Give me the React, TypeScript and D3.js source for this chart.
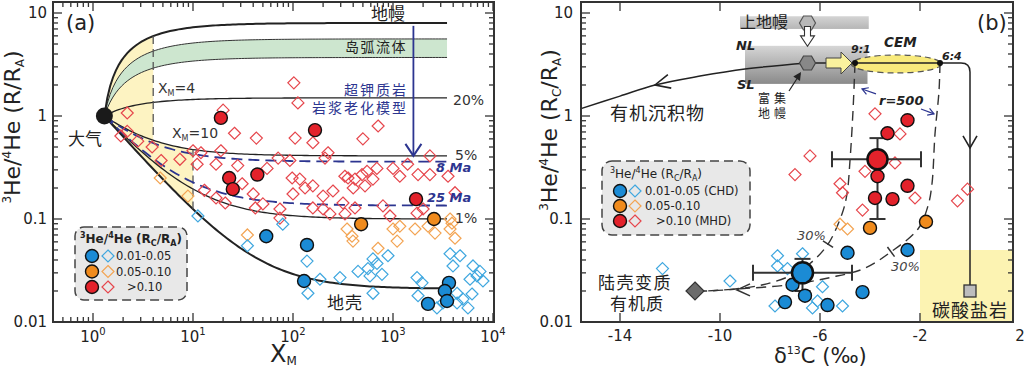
import * as d3 from 'd3';

const SANS = '"DejaVu Sans", "Liberation Sans", Arial, sans-serif';
const CJK = '"Noto Sans CJK SC", "DejaVu Sans", sans-serif';

const COL = {
  blue: '#1b8bd5', orange: '#f08b1d', red: '#e3222b',
  blueD: '#3fa7df', orangeD: '#f3a453', redD: '#e6464c',
  navy: '#2c3590', ink: '#262626',
};

// ---------- panel (a): X_M vs 3He/4He (R/RA)
const airXM = 1.3;
const xmEnd = 3470;
const mixEndR = [8, 1.5, 0.41, 0.1, 0.021]; // mantle, 20%, 5%, 1%, crust
const arcFluidR = [5.6, 3.7];
const agingLabels = ['8 Ma', '25 Ma'];
const agingEndR = [0.36, 0.135];
const sliceXM = [4, 10];
const arrowXM = 1600;

const aRedCircles = [[19, 0.96], [166, 0.73], [23, 0.25], [25, 0.195], [44, 0.27], [1700, 0.156]];
const aOrangeCircles = [[480, 0.089], [2570, 0.1]];
const aBlueCircles = [[54, 0.068], [138, 0.056], [129, 0.025], [2240, 0.015], [3630, 0.024], [3300, 0.02], [3470, 0.016]];
const aRedDiamonds = [
  [2.2, 1.07], [1.9, 0.64], [2.2, 0.71], [2.8, 0.57], [3.9, 0.5], [4.8, 0.37], [7.4, 0.38], [10, 0.46], [12, 0.44],
  [19, 0.46], [17, 0.34], [28, 0.33], [55, 0.31], [71, 0.39], [93, 0.37], [98, 0.25], [100, 0.175], [13, 0.19],
  [17, 0.16], [21, 0.143], [31, 0.22], [40, 0.175], [50, 0.14], [74, 0.125], [42, 0.128], [74, 0.102], [26, 0.68],
  [43, 0.61], [102, 2.1], [20, 1.14], [112, 1.34], [105, 0.61], [158, 0.55], [710, 0.8], [500, 0.6], [224, 0.44],
  [209, 0.39], [1000, 0.31], [1400, 0.34], [2340, 0.41], [690, 0.31], [550, 0.29], [330, 0.26], [355, 0.25],
  [417, 0.244], [490, 0.27], [630, 0.244], [1170, 0.26], [1780, 0.27], [2340, 0.27], [3550, 0.26], [117, 0.244],
  [132, 0.2], [158, 0.21], [251, 0.187], [200, 0.167], [400, 0.2], [525, 0.21], [316, 0.143], [158, 0.128],
  [200, 0.125], [417, 0.128], [794, 0.134], [1740, 0.114], [234, 0.112], [331, 0.112], [933, 0.107], [2000, 0.125],
  [4170, 0.18], [11, 0.34],
];
const aOrangeDiamonds = [
  [4.7, 0.25], [8.9, 0.167], [35, 0.07], [347, 0.08], [389, 0.068], [398, 0.061], [708, 0.052], [1100, 0.061],
  [1000, 0.08], [1170, 0.085], [1660, 0.08], [2240, 0.085], [2630, 0.073], [3720, 0.1], [4170, 0.065], [3720, 0.08],
  [3890, 0.091],
];
const aBlueDiamonds = [
  [11.2, 0.107], [35, 0.055], [79, 0.089], [138, 0.039], [186, 0.026], [295, 0.027], [447, 0.031], [562, 0.033],
  [631, 0.041], [692, 0.037], [776, 0.029], [589, 0.028], [891, 0.044], [631, 0.019], [141, 0.019], [1740, 0.027],
  [1950, 0.024], [1780, 0.018], [2750, 0.0137], [3720, 0.046], [4680, 0.044], [3980, 0.035], [6310, 0.035],
  [6920, 0.028], [5890, 0.026], [7410, 0.031], [7940, 0.025], [4370, 0.019], [5010, 0.0167], [6170, 0.0187],
  [5620, 0.0137], [4370, 0.0153], [3160, 0.0153],
];

// ---------- panel (b): d13C vs 3He/4He (Rc/RA)
const bRedCircles = [[-2.5, 0.91], [-3.3, 0.68], [-3.7, 0.26], [-3.8, 0.16], [-3.1, 0.156], [-2.5, 0.21]];
const bOrangeCircles = [[-4.0, 0.082], [-1.76, 0.094]];
const bBlueCircles = [[-4.9, 0.047], [-2.5, 0.05], [-4.3, 0.0195], [-5.7, 0.0146], [-6.6, 0.018], [-7.1, 0.023], [-7.4, 0.0156]];
const bRedDiamonds = [
  [-3.8, 1.05], [-2.8, 0.67], [-6.4, 0.41], [-7.0, 0.27], [-3.0, 0.35], [-4.2, 0.29], [-5.2, 0.22], [-5.1, 0.18],
  [-4.3, 0.122], [-2.2, 0.16], [-0.5, 0.15], [-0.1, 0.195],
];
const bOrangeDiamonds = [[-5.2, 0.089], [-4.9, 0.08]];
const bBlueDiamonds = [
  [-12.3, 0.033], [-9.6, 0.025], [-7.7, 0.044], [-7.7, 0.035], [-7.3, 0.033], [-6.7, 0.046], [-5.9, 0.022],
  [-5.1, 0.0143], [-7.8, 0.0143], [-6.3, 0.0137], [-6.1, 0.016],
];
// means with error bars: [x, y, xmin, xmax, ymin, ymax]
const bMeanRed = [-3.7, 0.38, -5.52, -1.96, 0.1, 0.61];
const bMeanBlue = [-6.7, 0.03, -8.68, -4.72, 0.02, 0.041];

const upperMantle = [-6.5, 8.0];
const enrichedMantle = [-6.5, 3.27];
const mix91 = [-4.6, 3.27];
const mix64 = [-1.2, 3.27];
const cemCenter = [-2.95, 3.2];
const crustOrganic = [-11, 0.02];
const carbonate = [0, 0.02];
const enrichedBox = [-9, -4.1, 2.05, 4.8];
const upperBar = [-9.2, -4.05, 7.0, 9.3];
const carbonateBox = [-2, 1.72, 0.01, 0.05];
const organicLine = [[-15.56, 1.18], [-14, 1.56], [-12.6, 2.0], [-10.8, 2.44], [-9, 2.86], [-6.5, 3.27]];
const mixLeft = [
  [-4.6, 3.27], [-4.68, 1.12], [-4.8, 0.37], [-4.92, 0.175], [-5.12, 0.112], [-5.68, 0.057], [-6.4, 0.037],
  [-7.2, 0.028], [-8.28, 0.023], [-9.32, 0.021], [-10.52, 0.02], [-11, 0.02],
];
const mixRight = [
  [-1.2, 3.27], [-1.24, 1.75], [-1.4, 0.67], [-1.52, 0.22], [-1.68, 0.134], [-2.08, 0.08], [-3.16, 0.048],
  [-4.24, 0.033], [-5.6, 0.027], [-7.2, 0.023], [-9.2, 0.021], [-10.52, 0.02],
];

const mix = (end: number, x: number) => end + (1 - end) * Math.pow(airXM / x, 1.1);
const grid = (a: number, b: number, n = 80) => d3.range(n + 1).map((i) => a * Math.pow(b / a, i / n));

function logTicks(lo: number, hi: number) {
  const out: { v: number; major: boolean }[] = [];
  for (let e = Math.floor(Math.log10(lo)); e <= Math.ceil(Math.log10(hi)); e++) {
    for (let m = 1; m < 10; m++) {
      const v = m * Math.pow(10, e);
      if (v >= lo * 0.999 && v <= hi * 1.001) out.push({ v, major: m === 1 });
    }
  }
  return out;
}

const diamond = 'M0,-6L6,0L0,6L-6,0Z';
const hexagon = 'M-8,0L-4,-7L4,-7L8,0L4,7L-4,7Z';
const chev = (len: number, half: number) => `M${-len},${-half}L0,0L${-len},${half}`;

function Frame({ x, y, xt, yt }: any) {
  const [x0, x1] = x.range();
  const [y0, y1] = y.range();
  return (
    <g stroke="#333" strokeWidth={1.3}>
      {xt.map((t: any, i: number) => {
        const px = x(t.v);
        const L = t.major ? 9 : 5;
        return (
          <g key={'x' + i}>
            <line x1={px} x2={px} y1={y0} y2={y0 - L} />
            <line x1={px} x2={px} y1={y1} y2={y1 + L} />
          </g>
        );
      })}
      {yt.map((t: any, i: number) => {
        const py = y(t.v);
        const L = t.major ? 9 : 5;
        return (
          <g key={'y' + i}>
            <line x1={x0} x2={x0 + L} y1={py} y2={py} />
            <line x1={x1} x2={x1 - L} y1={py} y2={py} />
          </g>
        );
      })}
      <rect x={x0} y={y1} width={x1 - x0} height={y0 - y1} fill="none" strokeWidth={2} />
    </g>
  );
}

function Marks({ pts, x, y, kind, color, r = 6.5 }: any) {
  return (
    <g>
      {pts.map((p: number[], i: number) =>
        kind === 'c' ? (
          <circle key={i} cx={x(p[0])} cy={y(p[1])} r={r} fill={color} stroke="#111" strokeWidth={1.4} />
        ) : (
          <path key={i} d={diamond} transform={`translate(${x(p[0])},${y(p[1])})`} fill="none" stroke={color} strokeWidth={1.2} />
        )
      )}
    </g>
  );
}

function HeLabel({ x, y, c }: any) {
  return (
    <text transform={`translate(${x},${y}) rotate(-90)`} textAnchor="middle" fontSize={22} fontFamily={SANS} fill="#222">
      <tspan fontSize={12} dy={-9}>3</tspan>
      <tspan dy={9}>He/</tspan>
      <tspan fontSize={12} dy={-9}>4</tspan>
      <tspan dy={9}>{c ? 'He (R' : 'He (R/R'}</tspan>
      {c ? (
        <>
          <tspan fontSize={12} dy={4}>C</tspan>
          <tspan dy={-4}>/R</tspan>
        </>
      ) : null}
      <tspan fontSize={12} dy={4}>A</tspan>
      <tspan dy={-4}>)</tspan>
    </text>
  );
}

function LegendTitle({ x, y, bold }: any) {
  return (
    <text x={x} y={y} fontSize={12} fontFamily={SANS} fontWeight={bold ? 'bold' : 'normal'} fill="#222" textAnchor={bold ? 'middle' : 'start'}>
      <tspan fontSize={8} dy={-5}>3</tspan>
      <tspan dy={5}>He/</tspan>
      <tspan fontSize={8} dy={-5}>4</tspan>
      <tspan dy={5}>He (R</tspan>
      <tspan fontSize={8} dy={3}>C</tspan>
      <tspan dy={-3}>/R</tspan>
      <tspan fontSize={8} dy={3}>A</tspan>
      <tspan dy={-3}>)</tspan>
    </text>
  );
}

export default function App() {
  const xA = d3.scaleLog().domain([Math.pow(10, -0.4), Math.pow(10, 4.01)]).range([53, 494]);
  const yA = d3.scaleLog().domain([0.01, Math.pow(10, 320 / 103 - 2)]).range([322, 2]);
  const xB = d3.scaleLinear().domain([-15.56, 1.72]).range([581, 1013]);
  const yB = yA.copy();

  const lineA = d3.line<number[]>().x((d) => xA(d[0])).y((d) => yA(d[1]));
  const curve = (end: number) => lineA(grid(airXM, xmEnd, 120).map((x) => [x, mix(end, x)]));

  const yellowPts = [
    ...grid(airXM, sliceXM[0], 30).map((x) => [x, mix(mixEndR[0], x)]),
    ...grid(sliceXM[0], sliceXM[1], 30).map((x) => [x, mix(mixEndR[2], x)]),
    ...grid(airXM, sliceXM[1], 50).reverse().map((x) => [x, mix(mixEndR[4], x)]),
  ];
  const greenPts = [
    ...grid(airXM, xmEnd, 120).map((x) => [x, mix(arcFluidR[0], x)]),
    ...grid(airXM, xmEnd, 120).reverse().map((x) => [x, mix(arcFluidR[1], x)]),
  ];

  const lineB = d3.line<number[]>().x((d) => xB(d[0])).y((d) => yB(d[1])).curve(d3.curveCatmullRom.alpha(0.5));

  const tickOn = (pts: number[][], i: number) => {
    const a = [xB(pts[i - 1][0]), yB(pts[i - 1][1])];
    const b = [xB(pts[i + 1][0]), yB(pts[i + 1][1])];
    const ang = (Math.atan2(b[1] - a[1], b[0] - a[0]) * 180) / Math.PI;
    return `translate(${xB(pts[i][0])},${yB(pts[i][1])}) rotate(${ang + 90})`;
  };

  const hexY = yB(enrichedMantle[1]);
  const tipX = xB(mix91[0]) - 3;

  const xTicksB = [-14, -10, -6, -2];
  const decadesA = [0, 1, 2, 3, 4];
  const decadesY = [10, 1, 0.1, 0.01];

  return (
    <svg width={1024} height={369} style={{ position: 'absolute', left: 0, top: 0, background: '#fff' }} fontFamily={SANS}>
      <defs>
        <linearGradient id="gbox" x1="0" y1="0" x2="0" y2="1">
          <stop offset="0" stopColor="#d6d6d6" />
          <stop offset="1" stopColor="#8a8a8a" />
        </linearGradient>
        <linearGradient id="gbar" x1="0" y1="0" x2="0" y2="1">
          <stop offset="0" stopColor="#d4d4d4" />
          <stop offset="1" stopColor="#b6b6b6" />
        </linearGradient>
      </defs>

      {/* ================= panel (a) ================= */}
      <g>
        <path d={lineA(yellowPts as any) + 'Z'} fill="#fdf3c2" />
        <path d={lineA(greenPts as any) + 'Z'} fill="#cde6cf" />
        {arcFluidR.map((r, i) => (
          <path key={'arc' + i} d={curve(r) as string} fill="none" stroke="#333" strokeWidth={1} />
        ))}
        {mixEndR.map((r, i) => (
          <path key={'mix' + i} d={curve(r) as string} fill="none" stroke="#222"
            strokeWidth={i === 0 || i === mixEndR.length - 1 ? 2 : 1.3} />
        ))}
        <line x1={xA(sliceXM[0])} x2={xA(sliceXM[0])} y1={yA(mix(mixEndR[0], sliceXM[0]))} y2={yA(mix(mixEndR[2], sliceXM[0]))}
          stroke="#555" strokeWidth={1.3} strokeDasharray="8,5" />
        <line x1={xA(sliceXM[1])} x2={xA(sliceXM[1])} y1={yA(mix(mixEndR[2], sliceXM[1]))} y2={yA(mix(mixEndR[4], sliceXM[1]))}
          stroke="#555" strokeWidth={1.3} strokeDasharray="8,5" />
        {agingEndR.map((r, i) => (
          <path key={'age' + i} d={curve(r) as string} fill="none" stroke={COL.navy} strokeWidth={1.8} strokeDasharray="11,6" />
        ))}
        <line x1={xA(arrowXM)} x2={xA(arrowXM)} y1={yA(7.5)} y2={yA(mixEndR[2])} stroke={COL.navy} strokeWidth={1.8} />
        <path d={chev(12, 8)} transform={`translate(${xA(arrowXM)},${yA(mixEndR[2])}) rotate(90)`} fill="none" stroke={COL.navy} strokeWidth={2} />

        <Marks pts={aRedDiamonds} x={xA} y={yA} kind="d" color={COL.redD} />
        <Marks pts={aOrangeDiamonds} x={xA} y={yA} kind="d" color={COL.orangeD} />
        <Marks pts={aBlueDiamonds} x={xA} y={yA} kind="d" color={COL.blueD} />
        <Marks pts={aRedCircles} x={xA} y={yA} kind="c" color={COL.red} />
        <Marks pts={aOrangeCircles} x={xA} y={yA} kind="c" color={COL.orange} />
        <Marks pts={aBlueCircles} x={xA} y={yA} kind="c" color={COL.blue} />
        <circle cx={xA(airXM)} cy={yA(1)} r={8.5} fill="#1a1a1a" />

        {/* labels */}
        <text x={66} y={30} fontSize={21} fill="#222">(a)</text>
        <text x={405} y={20} fontSize={17} fontFamily={CJK} textAnchor="end" fill="#222">地幔</text>
        <text x={407} y={52} fontSize={14} fontFamily={CJK} textAnchor="end" letterSpacing={1.5} fill="#222">岛弧流体</text>
        <text x={408} y={95} fontSize={14} fontFamily={CJK} textAnchor="end" letterSpacing={2} fill={COL.navy}>超钾质岩</text>
        <text x={408} y={113} fontSize={14} fontFamily={CJK} textAnchor="end" letterSpacing={2} fill={COL.navy}>岩浆老化模型</text>
        <text x={453} y={105} fontSize={14} fill="#333">20%</text>
        <text x={455} y={160} fontSize={14} fill="#333">5%</text>
        <text x={455} y={223} fontSize={14} fill="#333">1%</text>
        <text x={436} y={172} fontSize={13} fontWeight="bold" fontStyle="italic" fill={COL.navy}>{agingLabels[0]}</text>
        <text x={427} y={202} fontSize={13} fontWeight="bold" fontStyle="italic" fill={COL.navy}>{agingLabels[1]}</text>
        <text x={327} y={309} fontSize={17} fontFamily={CJK} letterSpacing={1} fill="#222">地壳</text>
        <text x={68} y={145} fontSize={17} fontFamily={CJK} fill="#222">大气</text>
        <text x={158} y={93} fontSize={14} fill="#333">X<tspan fontSize={8} dy={3}>M</tspan><tspan dy={-3}>=4</tspan></text>
        <text x={172} y={138} fontSize={14} fill="#333">X<tspan fontSize={8} dy={3}>M</tspan><tspan dy={-3}>=10</tspan></text>

        {/* legend (a) */}
        <rect x={75} y={227} width={112} height={73} rx={9} fill="#e8e8e8" stroke="#444" strokeWidth={1.5} strokeDasharray="9,5" />
        <LegendTitle x={131} y={243} bold />
        {[COL.blue, COL.orange, COL.red].map((c, i) => (
          <g key={'la' + i}>
            <circle cx={92} cy={256 + i * 15.5} r={6.5} fill={c} stroke="#111" strokeWidth={1.4} />
            <path d={diamond} transform={`translate(108,${256 + i * 15.5})`} fill="none"
              stroke={[COL.blueD, COL.orangeD, COL.redD][i]} strokeWidth={1.2} />
            <text x={i === 2 ? 127 : 116} y={260 + i * 15.5} fontSize={11.5} fill="#222">
              {['0.01-0.05', '0.05-0.10', '>0.10'][i]}
            </text>
          </g>
        ))}

        <Frame x={xA} y={yA} xt={logTicks(Math.pow(10, -0.4), Math.pow(10, 4.01))} yt={logTicks(0.01, Math.pow(10, 320 / 103 - 2))} />
        {decadesY.map((v) => (
          <text key={'ya' + v} x={47} y={yA(v) + 5} fontSize={15} textAnchor="end" fill="#222">{v}</text>
        ))}
        {decadesA.map((e) => (
          <text key={'xa' + e} x={xA(Math.pow(10, e))} y={342} fontSize={15} textAnchor="middle" fill="#222">
            10<tspan fontSize={10} dy={-7}>{e}</tspan>
          </text>
        ))}
        <HeLabel x={20} y={127} />
        <text x={270} y={362} fontSize={24} fill="#222">X<tspan fontSize={12} dy={3}>M</tspan></text>
      </g>

      {/* ================= panel (b) ================= */}
      <g>
        <rect x={xB(carbonateBox[0])} y={yB(carbonateBox[3])} width={xB(carbonateBox[1]) - xB(carbonateBox[0])}
          height={yB(carbonateBox[2]) - yB(carbonateBox[3])} fill="#fcf3b2" />
        <rect x={xB(upperBar[0])} y={yB(upperBar[3])} width={xB(upperBar[1]) - xB(upperBar[0])}
          height={yB(upperBar[2]) - yB(upperBar[3])} fill="url(#gbar)" />
        <rect x={xB(enrichedBox[0])} y={yB(enrichedBox[3])} width={xB(enrichedBox[1]) - xB(enrichedBox[0])}
          height={yB(enrichedBox[2]) - yB(enrichedBox[3])} fill="url(#gbox)" />

        {/* mixing lines */}
        <path d={lineB(organicLine as any) as string} fill="none" stroke="#222" strokeWidth={1.5} />
        <path d={chev(15, 7)} transform={`translate(${xB(-12.6)},${yB(2.0)}) rotate(166)`} fill="none" stroke="#222" strokeWidth={1.6} />
        <line x1={xB(enrichedMantle[0])} x2={tipX} y1={hexY} y2={hexY} stroke="#222" strokeWidth={1.5} />
        <ellipse cx={xB(cemCenter[0])} cy={yB(cemCenter[1])} rx={45} ry={9} fill="#f8ea7c" stroke="#555" strokeWidth={1.2} strokeDasharray="6,4" />
        <path d={`M${xB(mix91[0])},${hexY}H${xB(carbonate[0]) - 9}Q${xB(carbonate[0])},${hexY} ${xB(carbonate[0])},${hexY + 9}V${yB(carbonate[1])}`}
          fill="none" stroke="#222" strokeWidth={1.5} />
        <path d={chev(12, 7)} transform={`translate(${xB(carbonate[0])},${yB(0.49)}) rotate(90)`} fill="none" stroke="#222" strokeWidth={1.6} />
        <path d={lineB(mixLeft as any) as string} fill="none" stroke="#333" strokeWidth={1.4} strokeDasharray="10,6" />
        <path d={lineB(mixRight as any) as string} fill="none" stroke="#333" strokeWidth={1.4} strokeDasharray="10,6" />
        <path d={chev(13, 6)} transform={`translate(${xB(-9.32)},${yB(0.0205)}) rotate(180)`} fill="none" stroke="#333" strokeWidth={1.6} />
        <line x1={-6} x2={6} y1={0} y2={0} transform={tickOn(mixLeft, 5)} stroke="#333" strokeWidth={1.5} />
        <line x1={-6} x2={6} y1={0} y2={0} transform={tickOn(mixRight, 6)} stroke="#333" strokeWidth={1.5} />

        {/* yellow arrow to CEM */}
        <path d={`M${tipX - 26},${hexY - 5}H${tipX - 11}V${hexY - 11}L${tipX},${hexY}L${tipX - 11},${hexY + 11}V${hexY + 5}H${tipX - 26}Z`}
          fill="#faf29e" stroke="#444" strokeWidth={1} />
        <circle cx={xB(mix91[0])} cy={hexY} r={3} fill="#111" />
        <circle cx={xB(mix64[0])} cy={hexY} r={3} fill="#111" />

        {/* end members */}
        <path d={hexagon} transform={`translate(${xB(upperMantle[0])},${yB(upperMantle[1])})`} fill="#b8b8b8" stroke="#555" strokeWidth={1.2} />
        <path d={hexagon} transform={`translate(${xB(enrichedMantle[0])},${hexY})`} fill="#888" stroke="#444" strokeWidth={1.2} />
        <path d={`M${xB(-6.5) - 3},${yB(7.4)}V${yB(6.0)}H${xB(-6.5) - 7}L${xB(-6.5)},${yB(4.75)}L${xB(-6.5) + 7},${yB(6.0)}H${xB(-6.5) + 3}V${yB(7.4)}Z`}
          fill="#fff" stroke="#333" strokeWidth={1.1} />
        <path d={`M${xB(crustOrganic[0])},${yB(crustOrganic[1]) - 9}l9,9l-9,9l-9,-9Z`} fill="#6b6b6b" stroke="#333" strokeWidth={1.2} />
        <rect x={xB(carbonate[0]) - 6} y={yB(carbonate[1]) - 6} width={12} height={12} fill="#bdbdbd" stroke="#333" strokeWidth={1.3} />
        <line x1={789} y1={91} x2={800} y2={74} stroke="#222" strokeWidth={1.2} />
        <path d="M0,0L-8,-4L-8,4Z" transform="translate(801,72) rotate(-57)" fill="#222" />

        {/* r=500 arrows */}
        <path d={`M${xB(-3.76)},${yB(1.64)}L${xB(-4.32)},${yB(1.83)}`} stroke={COL.navy} strokeWidth={1.2} fill="none" />
        <path d={chev(6, 3.5)} transform={`translate(${xB(-4.32)},${yB(1.83)}) rotate(200)`} fill="none" stroke={COL.navy} strokeWidth={1.2} />
        <path d={`M${xB(-1.96)},${yB(1.17)}L${xB(-1.44)},${yB(1.05)}`} stroke={COL.navy} strokeWidth={1.2} fill="none" />
        <path d={chev(6, 3.5)} transform={`translate(${xB(-1.44)},${yB(1.05)}) rotate(20)`} fill="none" stroke={COL.navy} strokeWidth={1.2} />

        <Marks pts={bRedDiamonds} x={xB} y={yB} kind="d" color={COL.redD} />
        <Marks pts={bOrangeDiamonds} x={xB} y={yB} kind="d" color={COL.orangeD} />
        <Marks pts={bBlueDiamonds} x={xB} y={yB} kind="d" color={COL.blueD} />

        {[bMeanRed, bMeanBlue].map((m, i) => (
          <g key={'eb' + i} stroke="#333" strokeWidth={2}>
            <line x1={xB(m[2])} x2={xB(m[3])} y1={yB(m[1])} y2={yB(m[1])} />
            <line x1={xB(m[2])} x2={xB(m[2])} y1={yB(m[1]) - 8} y2={yB(m[1]) + 8} />
            <line x1={xB(m[3])} x2={xB(m[3])} y1={yB(m[1]) - 8} y2={yB(m[1]) + 8} />
            <line x1={xB(m[0])} x2={xB(m[0])} y1={yB(m[4])} y2={yB(m[5])} />
            <line x1={xB(m[0]) - 8} x2={xB(m[0]) + 8} y1={yB(m[5])} y2={yB(m[5])} />
            <line x1={xB(m[0]) - 8} x2={xB(m[0]) + 8} y1={yB(m[4])} y2={yB(m[4])} />
          </g>
        ))}
        <Marks pts={bRedCircles} x={xB} y={yB} kind="c" color={COL.red} />
        <Marks pts={bOrangeCircles} x={xB} y={yB} kind="c" color={COL.orange} />
        <Marks pts={bBlueCircles} x={xB} y={yB} kind="c" color={COL.blue} />
        <circle cx={xB(bMeanRed[0])} cy={yB(bMeanRed[1])} r={10} fill={COL.red} stroke="#111" strokeWidth={2.5} />
        <circle cx={xB(bMeanBlue[0])} cy={yB(bMeanBlue[1])} r={10.5} fill={COL.blue} stroke="#111" strokeWidth={2.5} />

        {/* labels */}
        <text x={977} y={30} fontSize={21} fill="#222">(b)</text>
        <text x={740} y={28} fontSize={16} fontFamily={CJK} fill="#222">上地幔</text>
        <text x={736} y={50} fontSize={13} fontWeight="bold" fontStyle="italic" fill="#222">NL</text>
        <text x={737} y={89} fontSize={13} fontWeight="bold" fontStyle="italic" fill="#222">SL</text>
        <text x={884} y={47} fontSize={13.5} fontWeight="bold" fontStyle="italic" fill="#222">CEM</text>
        <text x={851} y={53} fontSize={11} fontWeight="bold" fontStyle="italic" fill="#222">9:1</text>
        <text x={942} y={60} fontSize={11} fontWeight="bold" fontStyle="italic" fill="#222">6:4</text>
        <text x={879} y={105} fontSize={13} fontWeight="bold" fontStyle="italic" fill="#222">r=500</text>
        <text x={610} y={120} fontSize={18} fontFamily={CJK} letterSpacing={1} fill="#222">有机沉积物</text>
        <text x={758} y={103} fontSize={12} fontFamily={CJK} letterSpacing={4} fill="#222">富集</text>
        <text x={758} y={118} fontSize={12} fontFamily={CJK} letterSpacing={4} fill="#222">地幔</text>
        <text x={598} y={289} fontSize={17} fontFamily={CJK} letterSpacing={1.5} fill="#222">陆壳变质</text>
        <text x={610} y={310} fontSize={17} fontFamily={CJK} letterSpacing={1} fill="#222">有机质</text>
        <text x={932} y={317} fontSize={18} fontFamily={CJK} letterSpacing={1} fill="#222">碳酸盐岩</text>
        <text x={797} y={240} fontSize={13} fontStyle="italic" fill="#444">30%</text>
        <text x={891} y={271} fontSize={13} fontStyle="italic" fill="#444">30%</text>

        {/* legend (b) */}
        <rect x={602} y={161} width={148} height={74} rx={10} fill="#e8e8e8" stroke="#444" strokeWidth={1.5} strokeDasharray="9,5" />
        <LegendTitle x={610} y={178} />
        {[COL.blue, COL.orange, COL.red].map((c, i) => (
          <g key={'lb' + i}>
            <circle cx={620} cy={191 + i * 15} r={6.5} fill={c} stroke="#111" strokeWidth={1.4} />
            <path d={diamond} transform={`translate(635,${191 + i * 15})`} fill="none"
              stroke={[COL.blueD, COL.orangeD, COL.redD][i]} strokeWidth={1.2} />
            <text x={i === 2 ? 656 : 645} y={195 + i * 15} fontSize={11.5} fill="#222">
              {['0.01-0.05 (CHD)', '0.05-0.10', '>0.10 (MHD)'][i]}
            </text>
          </g>
        ))}

        <Frame x={xB} y={yB} xt={xTicksB.map((v) => ({ v, major: true }))} yt={logTicks(0.01, Math.pow(10, 320 / 103 - 2))} />
        {decadesY.map((v) => (
          <text key={'yb' + v} x={573} y={yB(v) + 5} fontSize={15} textAnchor="end" fill="#222">{v}</text>
        ))}
        {[...xTicksB, 2].map((v) => (
          <text key={'xb' + v} x={xB(v)} y={341} fontSize={15} textAnchor="middle" fill="#222">{v}</text>
        ))}
        <HeLabel x={557} y={130} c />
        <text x={774} y={363} fontSize={21} fill="#222">δ<tspan fontSize={11} dy={-9}>13</tspan><tspan dy={9}>C (‰)</tspan></text>
      </g>
    </svg>
  );
}
